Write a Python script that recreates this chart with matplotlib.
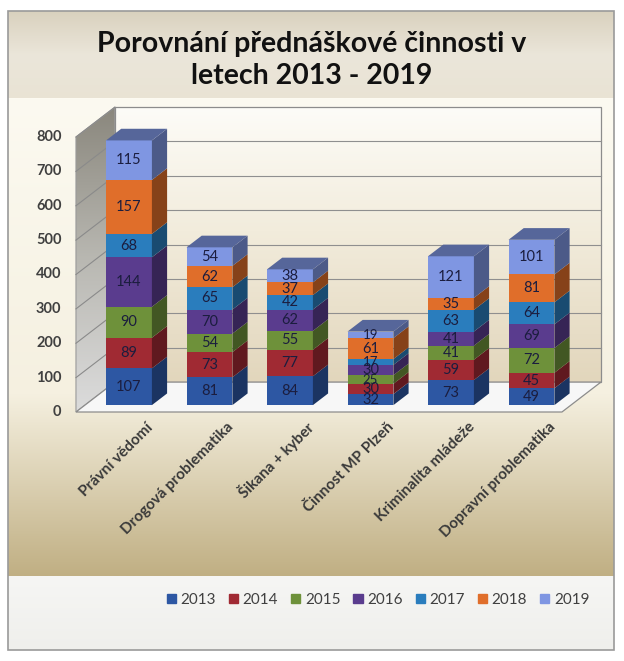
import numpy as np
import matplotlib
matplotlib.use("Agg")
import matplotlib.pyplot as plt
from matplotlib.patches import Polygon, Rectangle, Patch
from matplotlib.colors import to_rgb

plt.rcParams['font.family'] = ['Lato', 'DejaVu Sans']

# data
categories = ["Právní vědomí", "Drogová problematika", "Šikana + kyber",
              "Činnost MP Plzeň", "Kriminalita mládeže", "Dopravní problematika"]
years = ["2013", "2014", "2015", "2016", "2017", "2018", "2019"]
v2013 = [107, 81, 84, 32, 73, 49]
v2014 = [89, 73, 77, 30, 59, 45]
v2015 = [90, 54, 55, 25, 41, 72]
v2016 = [144, 70, 62, 30, 41, 69]
v2017 = [68, 65, 42, 17, 63, 64]
v2018 = [157, 62, 37, 61, 35, 81]
v2019 = [115, 54, 38, 19, 121, 101]
series = [v2013, v2014, v2015, v2016, v2017, v2018, v2019]
yticks = [0, 100, 200, 300, 400, 500, 600, 700, 800]

colors = ["#2d57a3", "#a02a33", "#6e913a", "#5a3c8e", "#2a7dbd", "#e06e2a", "#7f96e2"]

W, H = 624, 661
fig = plt.figure(figsize=(W / 100, H / 100), dpi=100, facecolor="white")

# background (pixel coordinates)
bg = fig.add_axes([0, 0, 1, 1], zorder=0)
bg.set_xlim(0, W)
bg.set_ylim(H, 0)
bg.axis("off")


def vgrad(stops, n=400):
    ys = np.linspace(0, 1, n)
    pos = [s[0] for s in stops]
    cols = np.array([to_rgb(s[1]) for s in stops])
    arr = np.stack([np.interp(ys, pos, cols[:, k]) for k in range(3)], axis=1)
    return arr[:, None, :]


bg.imshow(vgrad([(0, "#d9d1be"), (0.5, "#ebe6da"), (1, "#e9e3d4")]),
          extent=(8, 614, 100, 11), aspect="auto", zorder=1)
bg.imshow(vgrad([(0, "#fcfaf1"), (0.62, "#f5f0e0"), (1, "#c0af83")]),
          extent=(8, 614, 576, 98), aspect="auto", zorder=1)
bg.imshow(vgrad([(0, "#f6f6f4"), (1, "#efefec")]),
          extent=(8, 614, 650, 576), aspect="auto", zorder=1)
bg.add_patch(Rectangle((8, 11), 606, 639, fill=False, ec="#9a9a9a", lw=1.2, zorder=3))

# main axes: front plane mapping
ax = fig.add_axes([0, 0, 1, 1], zorder=1)
ax.patch.set_alpha(0)
sx, x0 = 80.5, 120.0
sy, y0 = 0.34375, 412.0
ax.set_xlim(-x0 / sx, (W - x0) / sx)
ax.set_ylim((y0 - H) / sy, y0 / sy)
ax.axis("off")

DX, DY = 0.484, 87.0          # full depth offset
XL, XR = -0.547, 5.49
d0, d1 = 0.23, 0.62           # bar depth range
BW = 0.57
top = yticks[-1]

# left wall with gradient
lw_poly = Polygon([(XL, 0), (XL + DX, DY), (XL + DX, top + DY), (XL, top)],
                  closed=True, fc="none", ec="#9a9a9a", lw=0.8, zorder=3)
ax.add_patch(lw_poly)
im = ax.imshow(vgrad([(0, "#8a877d"), (0.5, "#b9b8b2"), (1, "#dcdcdc")]),
               extent=(XL, XL + DX, 0, top + DY), aspect="auto", zorder=2)
im.set_clip_path(lw_poly)

# back wall
bw_rect = Rectangle((XL + DX, DY), XR - XL, top, fc="none", ec="#8c8c8c", lw=0.9, zorder=3)
ax.add_patch(bw_rect)
im2 = ax.imshow(vgrad([(0, "#fdfcf8"), (0.45, "#f2ecdc"), (1, "#e2d6bc")]),
                extent=(XL + DX, XR + DX, DY, top + DY), aspect="auto", zorder=2)
im2.set_clip_path(bw_rect)

# floor
ax.add_patch(Polygon([(XL, 0), (XR, 0), (XR + DX, DY), (XL + DX, DY)], closed=True,
                     fc="#f7f7f7", ec="#8c8c8c", lw=0.9, zorder=3))

# gridlines
for t in yticks[1:-1]:
    ax.plot([XL + DX, XR + DX], [t + DY, t + DY], color="#8f8f8f", lw=0.8, zorder=3)
for t in yticks[1:]:
    ax.plot([XL, XL + DX], [t, t + DY], color="#8a8a8a", lw=0.8, zorder=3)

# y tick labels
for t in yticks:
    ax.text(XL - 0.18, t, str(t), ha="right", va="center", fontsize=10.5,
            fontweight="bold", color="#404040", zorder=5)


def shade(c, f):
    r, g, b = to_rgb(c)
    return (r * f, g * f, b * f)


# bars
xs = np.arange(len(categories))
bottoms = np.zeros(len(categories))
ddx = (d1 - d0) * DX
for si, vals in enumerate(series):
    vals = np.array(vals, dtype=float)
    c = colors[si]
    ax.bar(xs + d0 * DX, vals, BW, bottom=bottoms + d0 * DY, color=c,
           edgecolor="none", zorder=4)
    for i in xs:
        b, v = bottoms[i], vals[i]
        xr = i + d0 * DX + BW / 2
        ax.add_patch(Polygon([(xr, b + d0 * DY), (xr + ddx, b + d1 * DY),
                              (xr + ddx, b + v + d1 * DY), (xr, b + v + d0 * DY)],
                             closed=True, fc=shade(c, 0.6), ec="none", zorder=4))
        fs = 10.5 if v >= 30 else 9.5
        ax.text(i + d0 * DX, b + v / 2 + d0 * DY, f"{int(v)}", ha="center", va="center",
                fontsize=fs, color="#1b1d3e", zorder=6)
    bottoms += vals

# top faces
for i in xs:
    T = bottoms[i]
    xl = i + d0 * DX - BW / 2
    xr = i + d0 * DX + BW / 2
    ax.add_patch(Polygon([(xl, T + d0 * DY), (xr, T + d0 * DY), (xr + ddx, T + d1 * DY),
                          (xl + ddx, T + d1 * DY)], closed=True,
                         fc=shade(colors[-1], 0.68), ec="none", zorder=4))

# category labels
for i, name in enumerate(categories):
    ax.text(i + 0.38, -38, name, rotation=45, rotation_mode="anchor", ha="right",
            va="center", fontsize=11, fontweight="bold", color="#3a3a3a", zorder=5)

# title
fig.text(0.5, 1 - 60 / H, "Porovnání přednáškové činnosti v\nletech 2013 - 2019",
         ha="center", va="center", fontsize=20.5, fontweight="bold", color="#111111",
         linespacing=1.25)

# legend
handles = [Patch(color=c) for c in colors]
fig.legend(handles, years, loc="center", bbox_to_anchor=(378 / W, 1 - 600 / H), ncol=7,
           frameon=False, handlelength=0.6, handleheight=0.6, handletextpad=0.3,
           columnspacing=0.85, fontsize=11, labelcolor="#404040")

fig.savefig("out.png", dpi=100, facecolor="white")
